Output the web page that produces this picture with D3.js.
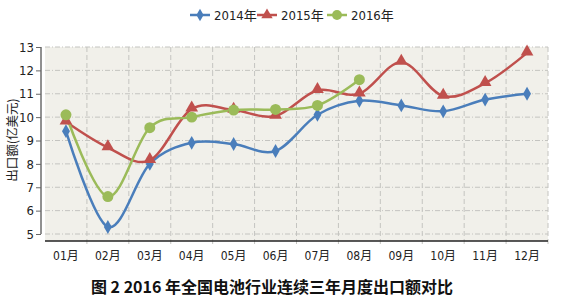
<!DOCTYPE html>
<html><head><meta charset="utf-8">
<script src="https://cdn.jsdelivr.net/npm/d3@7/dist/d3.min.js"></script>
<style>
body{margin:0;background:#fff;}
svg{display:block;}
.num{font-family:"Liberation Sans Narrow","DejaVu Sans Condensed","Noto Sans CJK SC",sans-serif;}
</style></head>
<body>
<svg id="c" width="570" height="305"></svg>
<script>
const months = ["01月","02月","03月","04月","05月","06月","07月","08月","09月","10月","11月","12月"];
const s2014 = [9.4,5.3,8.0,8.9,8.85,8.55,10.1,10.7,10.5,10.25,10.75,11.0];
const s2015 = [9.8,8.7,8.15,10.35,10.3,10.05,11.15,11.0,12.35,10.9,11.45,12.75];
const s2016 = [10.1,6.6,9.55,10.0,10.3,10.33,10.5,11.6];
const seriesNames = ["2014年","2015年","2016年"];
const colors = ["#4a7ebb","#c0504d","#9bbb59"];
const symbols = [d3.symbolDiamond, d3.symbolTriangle, d3.symbolCircle];
const symSizes = [55, 70, 95];
const yTicks = [5,6,7,8,9,10,11,12,13];

const svg = d3.select("#c");
const L=45, R=548, T=47, B=234, AX=241;
const x = d3.scaleBand().domain(months).range([L,R]);
const y = d3.scaleLinear().domain([5,13]).range([B,T]);

// background
svg.append("rect").attr("x",L).attr("y",T).attr("width",R-L).attr("height",AX-T).attr("fill","#f1f0ea");

// horizontal grid
svg.append("g").selectAll("line").data(yTicks).join("line")
  .attr("x1",L).attr("x2",R).attr("y1",d=>y(d)).attr("y2",d=>y(d))
  .attr("stroke","#c4c4c0").attr("stroke-width",1).attr("stroke-dasharray","5,2,1,2");
// vertical grid at band boundaries
const bounds = months.map(m=>x(m)).concat([R]);
svg.append("g").selectAll("line").data(bounds.slice(1)).join("line")
  .attr("x1",d=>d).attr("x2",d=>d).attr("y1",T).attr("y2",AX+4)
  .attr("stroke","#c4c4c0").attr("stroke-width",1).attr("stroke-dasharray","5,3");

// y axis
const yAxis = svg.append("g").attr("transform",`translate(41,0)`)
  .call(d3.axisLeft(y).tickValues(yTicks).tickSize(5).tickPadding(2).tickFormat(d3.format("d")));
yAxis.select(".domain").attr("stroke","#222").attr("d",`M0,${T}V${B}`);
yAxis.selectAll(".tick line").attr("stroke","#666");
yAxis.selectAll("text").attr("class","num").attr("font-size",13).attr("fill","#222");

// x axis
svg.append("line").attr("x1",L).attr("x2",R).attr("y1",AX).attr("y2",AX).attr("stroke","#222").attr("stroke-width",1.5);
const xAxis = svg.append("g").attr("transform",`translate(0,${AX})`)
  .call(d3.axisBottom(x).tickSize(0).tickPadding(10));
xAxis.select(".domain").remove();
xAxis.selectAll("text").attr("class","num").attr("font-size",12).attr("fill","#222");

// lines
const line = d3.line().x((d,i)=>x(months[i])+x.bandwidth()/2).y(d=>y(d)).curve(d3.curveCardinal.tension(0));
[s2014,s2015,s2016].forEach((s,k)=>{
  svg.append("path").datum(s).attr("d",line).attr("fill","none").attr("stroke",colors[k]).attr("stroke-width",2.5);
});
[s2014,s2015,s2016].forEach((s,k)=>{
  svg.append("g").selectAll("path").data(s).join("path")
    .attr("transform",(d,i)=>`translate(${x(months[i])+x.bandwidth()/2},${y(d)+(k===1?-1:0)})`)
    .attr("d",d3.symbol().type(symbols[k]).size(symSizes[k]))
    .attr("fill",colors[k]);
});

// legend
const legX = [190,257,327];
seriesNames.forEach((n,k)=>{
  const g = svg.append("g").attr("transform",`translate(${legX[k]},15)`);
  g.append("line").attr("x1",0).attr("x2",20).attr("stroke",colors[k]).attr("stroke-width",2.5);
  g.append("path").attr("transform","translate(10,0)").attr("d",d3.symbol().type(symbols[k]).size(symSizes[k]*0.8)).attr("fill",colors[k]);
  g.append("text").attr("class","num").attr("x",24).attr("y",4.5).attr("font-size",13).attr("fill","#222").text(n);
});

// y title
svg.append("text").attr("transform","translate(17,140) rotate(-90)").attr("text-anchor","middle")
  .attr("font-family","Noto Sans CJK SC, sans-serif").attr("font-size",12.5).attr("fill","#222").text("出口额(亿美元)");

// caption
svg.append("text").attr("x",272).attr("y",293).attr("text-anchor","middle")
  .attr("font-family","Noto Sans CJK SC, sans-serif").attr("font-weight","600").attr("font-size",16).attr("fill","#111")
  .text("图 2  2016 年全国电池行业连续三年月度出口额对比");
</script>
</body></html>
